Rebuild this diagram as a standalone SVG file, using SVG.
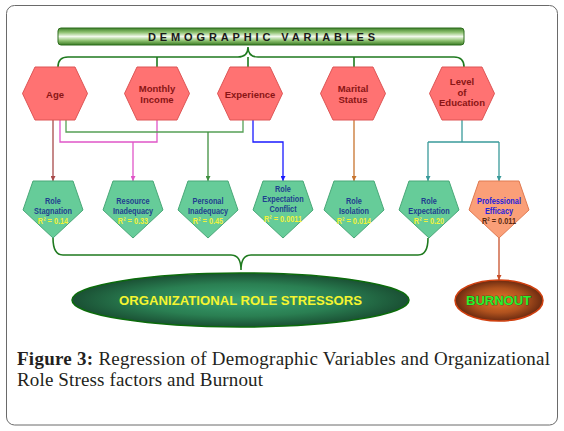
<svg xmlns="http://www.w3.org/2000/svg" width="564" height="431" viewBox="0 0 564 431">
<style>
.hex{fill:#ff7272;stroke:#dd5555;stroke-width:1}
.hext{font-family:"Liberation Sans",Arial,sans-serif;font-weight:bold;font-size:9.5px;fill:#8a1515;text-anchor:middle}
.pent{fill:#66cc99;stroke:#49a878;stroke-width:1}
.pentO{fill:#fa9f78;stroke:#e07a50;stroke-width:1}
.pt{font-family:"Liberation Sans",Arial,sans-serif;font-weight:bold;font-size:9.4px;fill:#1f3f8f;text-anchor:middle}
.r2{fill:#f2f23a}
.brace{fill:none;stroke:#1f7a1f;stroke-width:1.6}
.c{fill:none;stroke-width:1.3}
.cap{font-family:"Liberation Serif","Times New Roman",serif;font-size:19px;fill:#231f20}
</style>
<defs>
<linearGradient id="barGrad" x1="0" y1="0" x2="0" y2="1">
<stop offset="0" stop-color="#3d7f2a"/>
<stop offset="0.25" stop-color="#8cc06e"/>
<stop offset="0.5" stop-color="#f2f9ec"/>
<stop offset="0.75" stop-color="#8cc06e"/>
<stop offset="1" stop-color="#3a7a24"/>
</linearGradient>
<radialGradient id="orgGrad" cx="0.5" cy="0.5" r="0.5">
<stop offset="0" stop-color="#3aa070"/>
<stop offset="0.6" stop-color="#2a7f52"/>
<stop offset="1" stop-color="#1a5034"/>
</radialGradient>
<radialGradient id="burnGrad" cx="0.5" cy="0.5" r="0.5">
<stop offset="0" stop-color="#e8782a"/>
<stop offset="0.6" stop-color="#b0521e"/>
<stop offset="1" stop-color="#6a2a10"/>
</radialGradient>
<polygon id="hexShape" points="-32.5,93.5 -20,67 20,67 32.5,93.5 20,120 -20,120"/>
<polygon id="pentShape" points="-20,181 20,181 30,210 0,238 -30,210"/>
<marker id="aRed" viewBox="0 0 6 6" refX="6" refY="3" markerWidth="5" markerHeight="5" markerUnits="userSpaceOnUse" orient="auto"><path d="M0,0L6,3L0,6z" fill="#a84a4a"/></marker>
<marker id="aPink" viewBox="0 0 6 6" refX="6" refY="3" markerWidth="5" markerHeight="5" markerUnits="userSpaceOnUse" orient="auto"><path d="M0,0L6,3L0,6z" fill="#e055c8"/></marker>
<marker id="aGreen" viewBox="0 0 6 6" refX="6" refY="3" markerWidth="5" markerHeight="5" markerUnits="userSpaceOnUse" orient="auto"><path d="M0,0L6,3L0,6z" fill="#3f8f3f"/></marker>
<marker id="aBlue" viewBox="0 0 6 6" refX="6" refY="3" markerWidth="5" markerHeight="5" markerUnits="userSpaceOnUse" orient="auto"><path d="M0,0L6,3L0,6z" fill="#1a1aff"/></marker>
<marker id="aOrange" viewBox="0 0 6 6" refX="6" refY="3" markerWidth="5" markerHeight="5" markerUnits="userSpaceOnUse" orient="auto"><path d="M0,0L6,3L0,6z" fill="#c8742e"/></marker>
<marker id="aTeal" viewBox="0 0 6 6" refX="6" refY="3" markerWidth="5" markerHeight="5" markerUnits="userSpaceOnUse" orient="auto"><path d="M0,0L6,3L0,6z" fill="#3a9a9a"/></marker>
<marker id="aBurn" viewBox="0 0 6 6" refX="6" refY="3" markerWidth="5" markerHeight="5" markerUnits="userSpaceOnUse" orient="auto"><path d="M0,0L6,3L0,6z" fill="#c8502a"/></marker>
</defs>

<rect x="6.5" y="5.5" width="551" height="419.5" rx="8" fill="#ffffff" stroke="#6a6a6a" stroke-width="1"/>

<g id="demographic-variables">
<rect x="58" y="28" width="406" height="17" rx="3" fill="url(#barGrad)" stroke="#2d6d1d" stroke-width="1"/>
<text x="148" y="40.5" textLength="227" lengthAdjust="spacing" font-family="Liberation Sans,Arial,sans-serif" font-weight="bold" font-size="11" fill="#1a1a1a">DEMOGRAPHIC VARIABLES</text>
</g>

<g id="connectors">
<path class="brace" d="M58,67 Q58,57 68,57 L238,57 Q248,57 248,47 Q248,57 258,57 L454,57 Q464,57 464,67"/>
<path class="brace" d="M157,57V67M248,57V67M354,57V67"/>
<path class="brace" d="M53,238 Q53,255 63,255 L231,255 Q241,255 241,270 Q241,255 251,255 L418,255 Q428,255 428,238"/>
<path class="c" stroke="#a84a4a" d="M53,120V181" marker-end="url(#aRed)"/>
<path class="c" stroke="#e055c8" d="M60,120V142H157V120"/>
<path class="c" stroke="#e055c8" d="M133,142V181" marker-end="url(#aPink)"/>
<path class="c" stroke="#55a055" d="M66,120V132H243V120"/>
<path class="c" stroke="#3f8f3f" d="M208,132V181" marker-end="url(#aGreen)"/>
<path class="c" stroke="#1a1aff" d="M253,120V142H283V181" marker-end="url(#aBlue)"/>
<path class="c" stroke="#c8742e" d="M354,120V181" marker-end="url(#aOrange)"/>
<path class="c" stroke="#3a9a9a" d="M462,120V142M428,142H499"/>
<path class="c" stroke="#3a9a9a" d="M428,142V181" marker-end="url(#aTeal)"/>
<path class="c" stroke="#3a9a9a" d="M499,142V181" marker-end="url(#aTeal)"/>
<path class="c" stroke="#c8502a" d="M499,238V280" marker-end="url(#aBurn)"/>
</g>

<g id="age"><use href="#hexShape" x="55" class="hex"/><text class="hext" x="55" y="97.5">Age</text></g>
<g id="monthly-income"><use href="#hexShape" x="157" class="hex"/><text class="hext" x="157" y="92">Monthly</text><text class="hext" x="157" y="103">Income</text></g>
<g id="experience"><use href="#hexShape" x="250" class="hex"/><text class="hext" x="250" y="97.5">Experience</text></g>
<g id="marital-status"><use href="#hexShape" x="353" class="hex"/><text class="hext" x="353" y="92">Marital</text><text class="hext" x="353" y="103">Status</text></g>
<g id="level-of-education"><use href="#hexShape" x="462" class="hex"/><text class="hext" x="462" y="84.5">Level</text><text class="hext" x="462" y="95.5">of</text><text class="hext" x="462" y="106">Education</text></g>

<g id="role-stagnation"><use href="#pentShape" x="53" class="pent"/><g transform="translate(53,0) scale(0.78,1)"><text class="pt" y="204">Role</text><text class="pt" y="214">Stagnation</text><text class="pt r2" y="224">R² = 0.14</text></g></g>
<g id="resource-inadequacy"><use href="#pentShape" x="133" class="pent"/><g transform="translate(133,0) scale(0.78,1)"><text class="pt" y="204">Resource</text><text class="pt" y="214">Inadequacy</text><text class="pt r2" y="224">R² = 0.33</text></g></g>
<g id="personal-inadequacy"><use href="#pentShape" x="208" class="pent"/><g transform="translate(208,0) scale(0.78,1)"><text class="pt" y="204">Personal</text><text class="pt" y="214">Inadequacy</text><text class="pt r2" y="224">R² = 0.45</text></g></g>
<g id="role-expectation-conflict"><use href="#pentShape" x="283" class="pent"/><g transform="translate(283,0) scale(0.78,1)"><text class="pt" y="192">Role</text><text class="pt" y="202">Expectation</text><text class="pt" y="212">Conflict</text><text class="pt r2" y="222">R² = 0.0011</text></g></g>
<g id="role-isolation"><use href="#pentShape" x="354" class="pent"/><g transform="translate(354,0) scale(0.78,1)"><text class="pt" y="204">Role</text><text class="pt" y="214">Isolation</text><text class="pt r2" y="224">R² = 0.014</text></g></g>
<g id="role-expectation"><use href="#pentShape" x="429" class="pent"/><g transform="translate(429,0) scale(0.78,1)"><text class="pt" y="204">Role</text><text class="pt" y="214">Expectation</text><text class="pt r2" y="224">R² = 0.20</text></g></g>
<g id="professional-efficacy"><use href="#pentShape" x="499" class="pentO"/><g transform="translate(499,0) scale(0.78,1)"><text class="pt" y="204" style="fill:#2222dd">Professional</text><text class="pt" y="214" style="fill:#2222dd">Efficacy</text><text class="pt" y="224" style="fill:#5a2a12">R² = 0.011</text></g></g>

<g id="organizational-role-stressors">
<ellipse cx="240.5" cy="300" rx="168.5" ry="27" fill="url(#orgGrad)" stroke="#0b6b0b" stroke-width="1.5"/>
<text x="240.5" y="304.5" text-anchor="middle" textLength="243" lengthAdjust="spacingAndGlyphs" font-family="Liberation Sans,Arial,sans-serif" font-weight="bold" font-size="12.5" fill="#f5f530">ORGANIZATIONAL ROLE STRESSORS</text>
</g>

<g id="burnout">
<ellipse cx="499" cy="300.5" rx="44" ry="20.5" fill="url(#burnGrad)" stroke="#d0400f" stroke-width="1.5"/>
<text x="498.5" y="305" text-anchor="middle" textLength="65" lengthAdjust="spacingAndGlyphs" font-family="Liberation Sans,Arial,sans-serif" font-weight="bold" font-size="13" fill="#2cf02c" stroke="#1a3a10" stroke-width="0.6" paint-order="stroke">BURNOUT</text>
</g>

<g id="caption">
<text class="cap" x="17" y="365" textLength="533" lengthAdjust="spacing"><tspan font-weight="bold">Figure 3:</tspan> Regression of Demographic Variables and Organizational</text>
<text class="cap" x="17" y="386" textLength="246" lengthAdjust="spacing">Role Stress factors and Burnout</text>
</g>
</svg>
